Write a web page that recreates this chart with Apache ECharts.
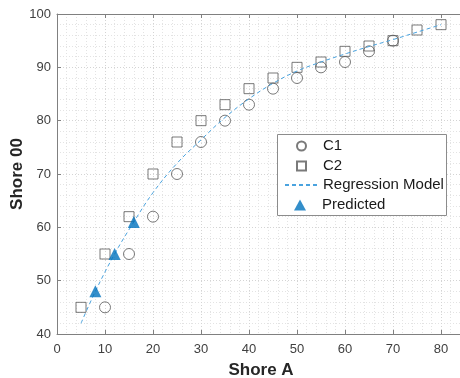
<!DOCTYPE html>
<html><head><meta charset="utf-8">
<script src="https://cdn.jsdelivr.net/npm/echarts@6/dist/echarts.min.js"></script>
<style>html,body{margin:0;padding:0;background:#fff}#c{width:460px;height:378px}</style>
</head><body><div id="c"></div>
<script>
var c1X = [10, 15, 20, 25, 30, 35, 40, 45, 50, 55, 60, 65, 70];
var c1Y = [45, 55, 62, 70, 76, 80, 83, 86, 88, 90, 91, 93, 95];
var c2X = [5, 10, 15, 20, 25, 30, 35, 40, 45, 50, 55, 60, 65, 70, 75, 80];
var c2Y = [45, 55, 62, 70, 76, 80, 83, 86, 88, 90, 91, 93, 94, 95, 97, 98];
var regX = [5, 8, 12, 16, 20, 25, 30, 35, 40, 45, 50, 55, 60, 65, 70, 75, 80];
var regY = [42, 48, 55, 61, 66.5, 72, 76.4, 80.6, 84.1, 87, 89.3, 91, 92.5, 93.9, 95.2, 96.6, 98];
var predX = [8, 12, 16];
var predY = [48, 55, 61];
var xTicks = [0, 10, 20, 30, 40, 50, 60, 70, 80];
var yTicks = [40, 50, 60, 70, 80, 90, 100];

function pairs(xs, ys){ return xs.map(function(x,i){return [x, ys[i]];}); }

var chart = echarts.init(document.getElementById('c'), null, {renderer:'canvas'});
var axisCol = '#808080';
var font = 'Liberation Sans, Arial, Helvetica, sans-serif';
var legText = {fontSize: 15, color: '#1a1a1a', fontFamily: font, lineHeight: 20};
chart.setOption({
  animation: false,
  backgroundColor: '#fff',
  textStyle: {fontFamily: font},
  grid: {left: 57, top: 14, width: 408, height: 320, outerBoundsMode: 'none', containLabel: false},
  graphic: [{
    type: 'rect', left: 277, top: 134, z: 90,
    shape: {width: 169, height: 81},
    style: {fill: '#fff', stroke: '#8c8c8c', lineWidth: 1}
  }],
  xAxis: [{
    type: 'value', min: 0, max: 85, interval: 10, position: 'bottom',
    name: 'Shore A', nameLocation: 'middle', nameGap: 28, nameMoveOverlap: false,
    nameTextStyle: {fontSize: 17, fontWeight: 'bold', color: '#262626', fontFamily: font},
    axisLine: {show: true, lineStyle: {color: axisCol, width: 1}},
    axisTick: {show: true, inside: true, length: 4, lineStyle: {color: axisCol}},
    axisLabel: {color: '#404040', fontSize: 13, margin: 9, fontFamily: font,
      formatter: function(v){ return xTicks.indexOf(v) >= 0 ? String(v) : ''; }},
    splitLine: {show: true, lineStyle: {color: '#d4d4d4', type: [1,2], width: 1}},
    minorTick: {show: false, splitNumber: 5},
    minorSplitLine: {show: true, lineStyle: {color: '#e3e3e3', type: [1,2], width: 1}}
  }, {
    type: 'value', min: 0, max: 85, interval: 10, position: 'top',
    axisLine: {show: true, lineStyle: {color: axisCol, width: 1}},
    axisTick: {show: true, inside: true, length: 4, lineStyle: {color: axisCol}},
    axisLabel: {show: false}, splitLine: {show: false}
  }],
  yAxis: [{
    type: 'value', min: 40, max: 100, interval: 10, position: 'left',
    name: 'Shore 00', nameLocation: 'middle', nameGap: 31, nameMoveOverlap: false,
    nameTextStyle: {fontSize: 17, fontWeight: 'bold', color: '#262626', fontFamily: font},
    axisLine: {show: true, lineStyle: {color: axisCol, width: 1}},
    axisTick: {show: true, inside: true, length: 4, lineStyle: {color: axisCol}},
    axisLabel: {color: '#404040', fontSize: 13, margin: 6, fontFamily: font,
      formatter: function(v){ return yTicks.indexOf(v) >= 0 ? String(v) : ''; }},
    splitLine: {show: true, lineStyle: {color: '#d4d4d4', type: [1,2], width: 1}},
    minorTick: {show: false, splitNumber: 5},
    minorSplitLine: {show: true, lineStyle: {color: '#e3e3e3', type: [1,2], width: 1}}
  }],
  legend: [{
    left: 296, top: 136, orient: 'vertical', padding: 0, itemGap: 0,
    itemWidth: 9, itemHeight: 9, z: 100,
    textStyle: Object.assign({padding: [0,0,0,12]}, legText),
    data: [{name: 'C1', icon: 'circle'}, {name: 'C2', icon: 'rect'}]
  }, {
    left: 284, top: 175, orient: 'vertical', padding: 0, itemGap: 0,
    itemWidth: 33, itemHeight: 10, z: 100,
    textStyle: Object.assign({padding: [0,0,0,0]}, legText),
    itemStyle: {opacity: 0},
    data: ['Regression Model']
  }, {
    left: 294, top: 195, orient: 'vertical', padding: 0, itemGap: 0,
    itemWidth: 12, itemHeight: 11, z: 100,
    textStyle: Object.assign({padding: [0,0,0,11]}, legText),
    data: [{name: 'Predicted', icon: 'triangle'}]
  }],
  series: [{
    name: 'C1', type: 'scatter', data: pairs(c1X, c1Y), symbol: 'circle', symbolSize: 11,
    itemStyle: {color: 'rgba(255,255,255,0)', borderColor: '#595959', borderWidth: 1}, z: 3
  }, {
    name: 'C2', type: 'scatter', data: pairs(c2X, c2Y), symbol: 'rect', symbolSize: 10,
    itemStyle: {color: 'rgba(255,255,255,0)', borderColor: '#595959', borderWidth: 1}, z: 3
  }, {
    name: 'Regression Model', type: 'line', data: pairs(regX, regY), smooth: 0.4,
    symbol: 'none', lineStyle: {color: '#4aa3df', width: 1, type: [4, 3]},
    itemStyle: {color: '#4aa3df'}, z: 4
  }, {
    name: 'Predicted', type: 'scatter', data: pairs(predX, predY), symbol: 'triangle', symbolSize: 12,
    itemStyle: {color: '#0072BD'}, z: 5
  }]
});
</script></body></html>
